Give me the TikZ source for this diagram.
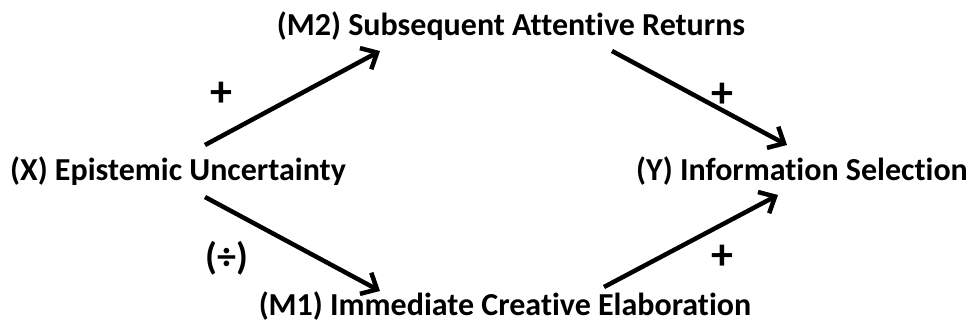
\documentclass[tikz,border=0pt]{standalone}
\usepackage{fontspec}
\setmainfont{Carlito}[RawFeature=-liga]
\usetikzlibrary{arrows.meta}
\begin{document}
\begin{tikzpicture}[x=1pt,y=-1pt,>={Straight Barb[length=13pt,width=24pt]},
  var/.style={anchor=base, inner sep=0pt, font=\fontsize{32}{36}\selectfont\bfseries},
  sign/.style={inner sep=0pt, font=\fontsize{38}{40}\selectfont\bfseries},
  plus/.style={sign, font=\fontsize{44}{46}\selectfont\bfseries},
  arr/.style={->, line width=4.5pt}]
  \useasboundingbox (0,0) rectangle (976,332);

  % Variables
  \node[var] (X)  at (178,180) {(X) Epistemic Uncertainty};
  \node[var] (Y)  at (802,180) {(Y) Information Selection};
  \node[var] (M2) at (511,35)  {(M2) Subsequent Attentive Returns};
  \node[var] (M1) at (505,315) {(M1) Immediate Creative Elaboration};

  % Paths through M2
  \draw[arr] ([xshift=27pt,yshift=35pt]X.base) -- ([xshift=-131pt,yshift=-16pt]M2.base);
  \draw[arr] ([xshift=101pt,yshift=-16pt]M2.base) -- ([xshift=-15pt,yshift=35pt]Y.base);

  % Paths through M1
  \draw[arr] ([xshift=27pt,yshift=-17pt]X.base) -- ([xshift=-125pt,yshift=24pt]M1.base);
  \draw[arr] ([xshift=99pt,yshift=28pt]M1.base) -- ([xshift=-24pt,yshift=-15pt]Y.base);

  % Signs
  \node[plus] (s1) at (221,94)  {+};
  \node[plus] (s2) at (722,95)  {+};
  \node[sign] (s3) at (227,258) {(÷)};
  \node[plus] (s4) at (722,257) {+};
\end{tikzpicture}
\end{document}
